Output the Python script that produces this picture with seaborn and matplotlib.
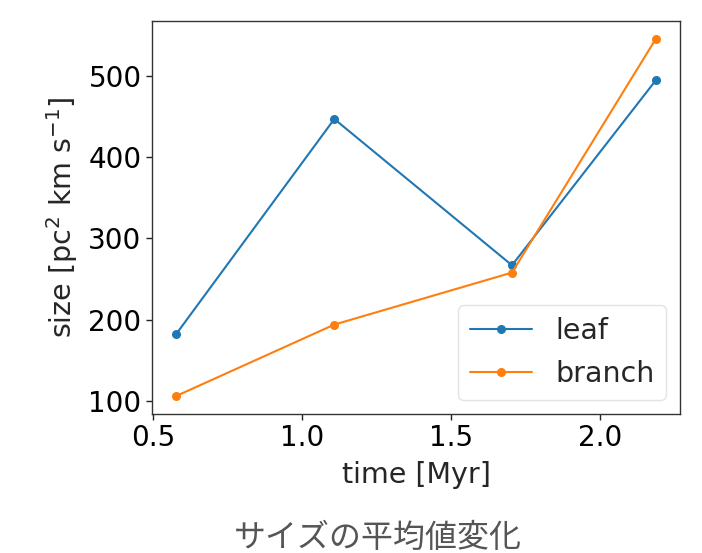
import matplotlib
matplotlib.use("Agg")
import matplotlib.pyplot as plt
import seaborn as sns
import pandas as pd

# Mean size over time for the two structure types
time_myr = [0.576, 1.108, 1.705, 2.189]
leaf_size = [182, 447, 267, 495]
branch_size = [106, 194, 258, 546]
series_names = ["leaf", "branch"]
caption = "サイズの平均値変化"

df = pd.DataFrame({
    "time": time_myr * 2,
    "size": leaf_size + branch_size,
    "kind": [series_names[0]] * len(time_myr) + [series_names[1]] * len(time_myr),
})

sns.set_style("ticks")
plt.rcParams["font.family"] = ["DejaVu Sans", "Noto Sans CJK JP"]
plt.rcParams["xtick.direction"] = "out"
plt.rcParams["ytick.direction"] = "out"

fig = plt.figure(figsize=(7.02, 5.53), dpi=100)
ax = fig.add_axes([0.2165, 0.2514, 0.7522, 0.7112])

sns.lineplot(data=df, x="time", y="size", hue="kind",
             palette=["#1f77b4", "#ff7f0e"], marker="o",
             markersize=6.5, markeredgewidth=0, linewidth=1.5, ax=ax)

for s in ax.spines.values():
    s.set_visible(True)
    s.set_color("#333333")
    s.set_linewidth(1.0)

ax.tick_params(labelsize=20, length=4, width=1, colors="#222222", labelcolor="black")
ax.set_xticks([0.5, 1.0, 1.5, 2.0])
ax.set_yticks([100, 200, 300, 400, 500])
ax.set_xlabel("time [Myr]", fontsize=20.5, labelpad=6)
ax.set_ylabel(r"size [pc$^2$ km s$^{-1}$]", fontsize=20.5, labelpad=6)

leg = ax.legend(title=None, fontsize=20.5, loc="lower right",
                frameon=True, handlelength=2.2, labelspacing=0.55,
                borderpad=0.4, handletextpad=0.8, borderaxespad=0.5)
leg.get_frame().set_edgecolor("#dddddd")

fig.text(378 / 702, 1 - 538 / 553, caption, ha="center", va="center",
         fontsize=23, color="#555555", family=["Noto Sans CJK JP", "DejaVu Sans"])

fig.savefig("out.png", dpi=100)
